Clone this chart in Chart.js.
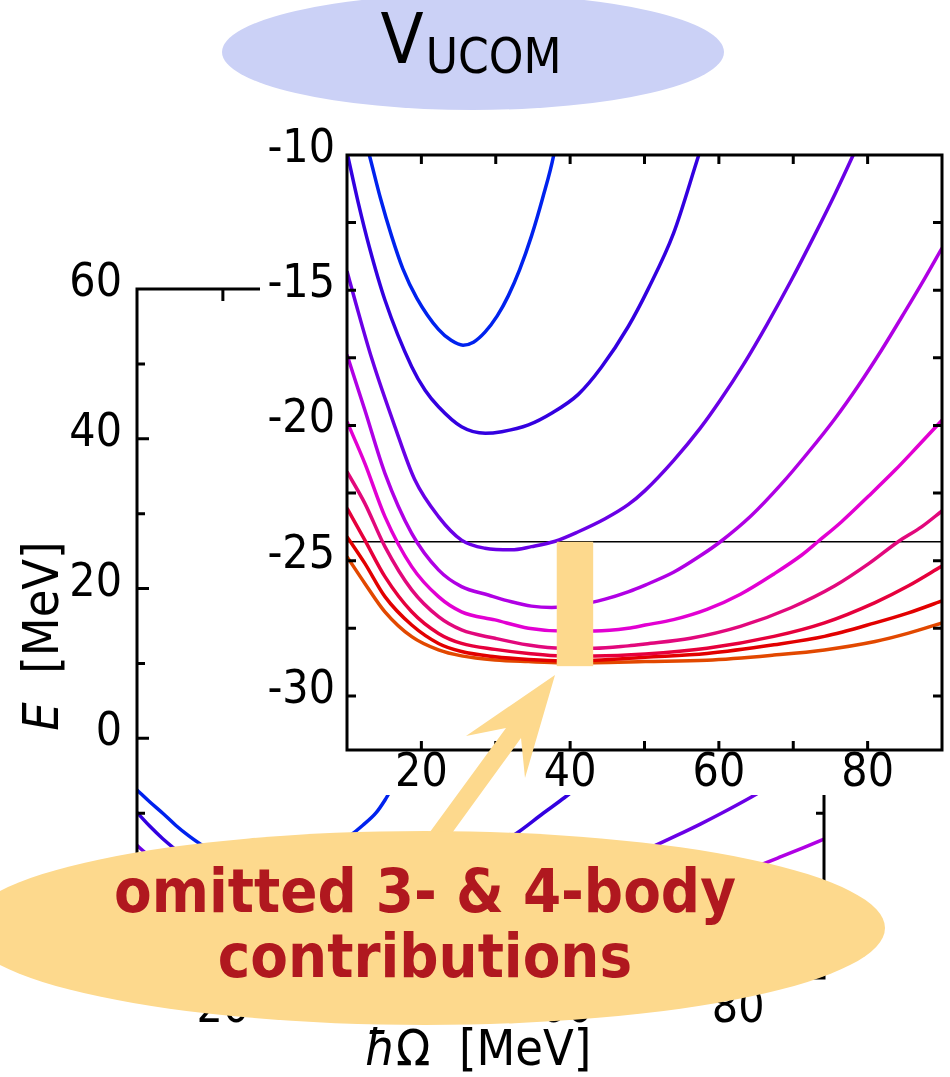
<!DOCTYPE html>
<html>
<head>
<meta charset="utf-8">
<script src="https://cdn.jsdelivr.net/npm/chart.js@4.4.1/dist/chart.umd.min.js"></script>
<style>
  html, body { margin: 0; padding: 0; background: #fff; }
  #page {
    position: relative; width: 950px; height: 1077px; overflow: hidden;
    font-family: 'DejaVu Sans Condensed', 'DejaVu Sans', sans-serif; font-stretch: condensed;
  }
  #mainChart { position: absolute; left: 0; top: 0; }
  #insetBox { position: absolute; left: 260px; top: 100px; width: 690px; height: 695px; background: #fff; }
  #arrow { position: absolute; left: 0; top: 0; }
  .titleBubble {
    position: absolute; left: 222px; top: -6px; width: 502px; height: 116px;
    border-radius: 50%; background: #cbd1f6;
  }
  .titleText {
    position: absolute; left: 0; top: 5px; width: 942px; text-align: center;
    font-size: 70px; line-height: 68px; white-space: nowrap; color: #000;
  }
  .titleText span { font-size: 49px; position: relative; top: 10px; margin-left: 2px; }
  .noteBubble {
    position: absolute; left: -35px; top: 831px; width: 920px; height: 194px;
    border-radius: 50%; background: #fdd98d;
  }
  .noteText {
    position: absolute; left: 0; top: 858px; width: 850px; text-align: center;
    font-size: 61px; line-height: 65px; font-weight: bold; color: #b0181f; white-space: nowrap;
  }
  .yTitle {
    position: absolute; left: -109px; top: 611px; width: 300px; height: 50px;
    text-align: center; font-size: 50px; line-height: 50px; white-space: pre;
    transform: rotate(-90deg);
  }
  .xTitle {
    position: absolute; left: 178px; top: 1023px; width: 600px; text-align: center;
    font-size: 50px; line-height: 50px; white-space: pre;
  }
</style>
</head>
<body>
<div id="page">
  <canvas id="mainChart" width="950" height="1077"></canvas>
  <div class="yTitle"><i>E</i>  [MeV]</div>
  <div class="xTitle"><i>ħ</i>Ω  [MeV]</div>
  <div id="insetBox"><canvas id="insetChart" width="690" height="695"></canvas></div>
  <svg id="arrow" width="950" height="1077">
    <polygon points="555,675 525,778 521,738 431,862 408,862 506,728 466,736" fill="#fdd98d"/>
  </svg>
  <div class="noteBubble"></div>
  <div class="noteText">omitted 3- &amp; 4-body<br>contributions</div>
  <div class="titleBubble"></div>
  <div class="titleText">V<span>UCOM</span></div>
</div>

<script>
const FONT = "'DejaVu Sans Condensed', 'DejaVu Sans', sans-serif";

// ─── DATA: [ħΩ (MeV), E (MeV)] per curve ──────────────────────
const curve1 = [[10,-6.9],[11.5,-8.5],[13,-10.0],[14.5,-11.6],[16,-13.0],[17.5,-14.2],[19.4,-15.3],[22.3,-16.45],[24,-16.85],[25.6,-17.03],[27,-16.92],[28.55,-16.55],[30.2,-15.95],[31.7,-15.2],[33.2,-14.25],[34.8,-13.0],[36.3,-11.6],[37.8,-10.0],[38.9,-8.2],[39.9,-6.2],[41,-4.2]];
const curve2 = [[10,-9.9],[11.5,-11.75],[13,-13.4],[15.1,-15.36],[18.7,-17.83],[20.5,-18.7],[22.3,-19.31],[25.4,-20.05],[28.6,-20.29],[30.8,-20.23],[34.4,-19.98],[37.5,-19.55],[41.1,-18.85],[44.2,-17.85],[47.8,-16.35],[50.5,-14.95],[53.9,-12.9],[57.3,-10.0],[59.8,-7.9],[62,-5.9]];
const curve3 = [[10,-14.3],[11.1,-15.4],[13.3,-17.5],[16.45,-20.05],[19.1,-22.0],[22.3,-23.37],[25.4,-24.24],[28.55,-24.54],[32.1,-24.6],[34.8,-24.48],[38,-24.28],[41.1,-23.93],[44.7,-23.45],[47.8,-22.93],[50.1,-22.4],[53.9,-21.3],[57.5,-20.1],[60.2,-19.06],[63.3,-17.75],[66.5,-16.25],[69.7,-14.65],[72.8,-13.0],[75.6,-11.45],[78,-10.04],[81.6,-7.8],[84,-6.2]];
const curve4 = [[10,-17.39],[12.4,-19.43],[15.1,-21.77],[18.7,-23.99],[22.3,-25.34],[25.4,-25.96],[29,-26.27],[32.1,-26.52],[34.8,-26.68],[37.5,-26.73],[41.1,-26.64],[44.7,-26.42],[47.8,-26.15],[50.1,-25.9],[53.9,-25.43],[57.5,-24.82],[60.2,-24.3],[64.3,-23.35],[68.3,-22.2],[72,-21.0],[75.6,-19.75],[78.7,-18.55],[81.9,-17.2],[85,-15.8],[87.7,-14.55],[90,-13.44]];
const curve5 = [[10,-19.86],[12.4,-21.4],[15.1,-23.37],[18.7,-25.22],[22.3,-26.33],[25.4,-26.89],[29.9,-27.19],[34.4,-27.5],[38.9,-27.6],[43.3,-27.6],[47.8,-27.5],[50.1,-27.38],[53.9,-27.18],[58.4,-26.8],[62.9,-26.24],[67.4,-25.49],[71.1,-24.8],[73.3,-24.3],[76.5,-23.56],[80.1,-22.62],[83.7,-21.65],[86.8,-20.75],[90,-19.81]];
const curve6 = [[10,-21.71],[12.4,-22.88],[15.1,-24.48],[18.7,-26.08],[22.3,-27.07],[25.4,-27.56],[29.9,-27.87],[34.4,-28.12],[38.9,-28.24],[43.3,-28.24],[47.8,-28.15],[50.1,-28.08],[56.2,-27.87],[62.9,-27.43],[69.7,-26.74],[75.6,-25.93],[80.1,-25.12],[84.1,-24.3],[87.3,-23.74],[90,-23.16]];
const curve7 = [[10,-23.06],[12.4,-24.24],[15.1,-25.59],[18.7,-26.89],[22.3,-27.69],[25.4,-28.06],[29.9,-28.28],[34.4,-28.43],[38.9,-28.52],[43.3,-28.52],[50.1,-28.45],[58.4,-28.24],[67.4,-27.8],[74.2,-27.3],[81,-26.55],[85.5,-25.93],[90,-25.2]];
const curve8 = [[10,-24.11],[12.4,-25.1],[15.1,-26.33],[18.7,-27.38],[22.3,-28.06],[25.4,-28.36],[29.9,-28.55],[34.4,-28.65],[38.9,-28.7],[43.3,-28.68],[50.1,-28.57],[58.4,-28.43],[67.4,-28.11],[74.2,-27.8],[81,-27.3],[85.5,-26.93],[90,-26.49]];
const curve9 = [[10,-24.85],[12.4,-25.84],[15.1,-26.89],[18.7,-27.81],[22.3,-28.3],[25.4,-28.52],[29.9,-28.67],[34.4,-28.73],[38.9,-28.77],[43.3,-28.77],[50.1,-28.73],[58.4,-28.68],[67.4,-28.49],[74.2,-28.3],[81,-27.99],[85.5,-27.68],[90,-27.3]];

const refLineE = -24.3;            // thin horizontal line in the inset
const omitBandHw = [38.2, 43.1];   // shaded band, ħΩ range
const omitBandE = [-24.3, -28.9];  // shaded band, E range

const mainXTicks = [20, 40, 60, 80];
const mainYTicks = [0, 20, 40, 60];
const mainYMajor = [-20, 0, 20, 40, 60];
const insetXTicks = [20, 40, 60, 80];
const insetYTicks = [-30, -25, -20, -15, -10];

const curves = [curve1, curve2, curve3, curve4, curve5, curve6, curve7, curve8, curve9];
const curveColors = ['#0022ee', '#3300e0', '#6a00e6', '#b000e4', '#e200d2', '#e2087c', '#e6003c', '#e20000', '#e24800'];

// ─── HELPERS ───────────────────────────────────────────────────
function curveSets() {
  return curves.map((c, i) => ({
    data: c.map((p) => ({ x: p[0], y: p[1] })),
    borderColor: curveColors[i],
    borderWidth: 3.5,
    pointRadius: 0,
    fill: false,
    cubicInterpolationMode: 'monotone',
  }));
}

function axis(min, max, tickList, size, pad, offset) {
  return {
    type: 'linear', min, max,
    afterBuildTicks: (s) => { s.ticks = tickList.map((v) => ({ value: v })); },
    afterFit: (s) => { if (s.isHorizontal()) s.height = size; else s.width = size; },
    grid: { display: false, drawTicks: false },
    border: { display: false },
    ticks: {
      color: '#000', padding: pad, autoSkip: false, maxRotation: 0,
      labelOffset: offset || 0,
      font: { family: FONT, size: 46 },
      callback: (v) => String(v),
    },
  };
}

// box frame with inward ticks on all four sides
const framePlugin = {
  id: 'frame',
  afterDraw(chart, args, o) {
    const { ctx, chartArea: a, scales: { x, y } } = chart;
    const isMajor = (list, v) => list.some((t) => Math.abs(t - v) < 1e-6);
    ctx.save();
    ctx.strokeStyle = '#000';
    ctx.lineWidth = o.width;
    ctx.beginPath();
    for (let v = Math.ceil(x.min / o.xStep) * o.xStep; v < x.max - 1e-6; v += o.xStep) {
      if (v <= x.min + 1e-6) continue;
      const px = x.getPixelForValue(v);
      const len = isMajor(o.xMajor, v) ? o.major : o.minor;
      ctx.moveTo(px, a.bottom); ctx.lineTo(px, a.bottom - len);
      ctx.moveTo(px, a.top); ctx.lineTo(px, a.top + len);
    }
    for (let v = Math.ceil(y.min / o.yStep) * o.yStep; v < y.max - 1e-6; v += o.yStep) {
      if (v <= y.min + 1e-6) continue;
      const py = y.getPixelForValue(v);
      const len = isMajor(o.yMajor, v) ? o.major : o.minor;
      ctx.moveTo(a.left, py); ctx.lineTo(a.left + len, py);
      ctx.moveTo(a.right, py); ctx.lineTo(a.right - len, py);
    }
    ctx.stroke();
    ctx.strokeRect(a.left, a.top, a.width, a.height);
    ctx.restore();
  },
};

// orange band marking the omitted contributions
const bandPlugin = {
  id: 'band',
  afterDatasetsDraw(chart, args, o) {
    if (!o.show) return;
    const { ctx, scales: { x, y } } = chart;
    const x0 = x.getPixelForValue(omitBandHw[0]);
    const x1 = x.getPixelForValue(omitBandHw[1]);
    const y0 = y.getPixelForValue(omitBandE[0]);
    const y1 = y.getPixelForValue(omitBandE[1]);
    ctx.save();
    ctx.fillStyle = '#fdd98d';
    ctx.fillRect(x0, y0, x1 - x0, y1 - y0);
    ctx.restore();
  },
};

const common = {
  responsive: false,
  animation: false,
  events: [],
  plugins: { legend: { display: false }, tooltip: { enabled: false } },
};

// ─── MAIN CHART ────────────────────────────────────────────────
new Chart(document.getElementById('mainChart'), {
  type: 'line',
  data: { datasets: curveSets() },
  options: {
    ...common,
    layout: { padding: { top: 289, right: 126, left: 0, bottom: 0 } },
    scales: {
      x: axis(10, 90, mainXTicks, 99, 4),
      y: axis(-32, 60, mainYTicks, 137, 15, -5),
    },
    plugins: {
      ...common.plugins,
      frame: { width: 3, major: 12, minor: 8, xStep: 10, yStep: 10, xMajor: mainXTicks, yMajor: mainYMajor },
      band: { show: false },
    },
  },
  plugins: [framePlugin, bandPlugin],
});

// ─── INSET CHART ───────────────────────────────────────────────
const insetSets = curveSets();
insetSets.push({
  data: [{ x: 10, y: refLineE }, { x: 90, y: refLineE }],
  borderColor: '#000',
  borderWidth: 1.5,
  pointRadius: 0,
  fill: false,
});

new Chart(document.getElementById('insetChart'), {
  type: 'line',
  data: { datasets: insetSets },
  options: {
    ...common,
    layout: { padding: { top: 55, right: 8, left: 0, bottom: 0 } },
    scales: {
      x: axis(10, 90, insetXTicks, 45, -4),
      y: axis(-32, -10, insetYTicks, 87, 12, -5),
    },
    plugins: {
      ...common.plugins,
      frame: { width: 3, major: 9, minor: 9, xStep: 10, yStep: 2.5, xMajor: insetXTicks, yMajor: insetYTicks },
      band: { show: true },
    },
  },
  plugins: [framePlugin, bandPlugin],
});
</script>
</body>
</html>
